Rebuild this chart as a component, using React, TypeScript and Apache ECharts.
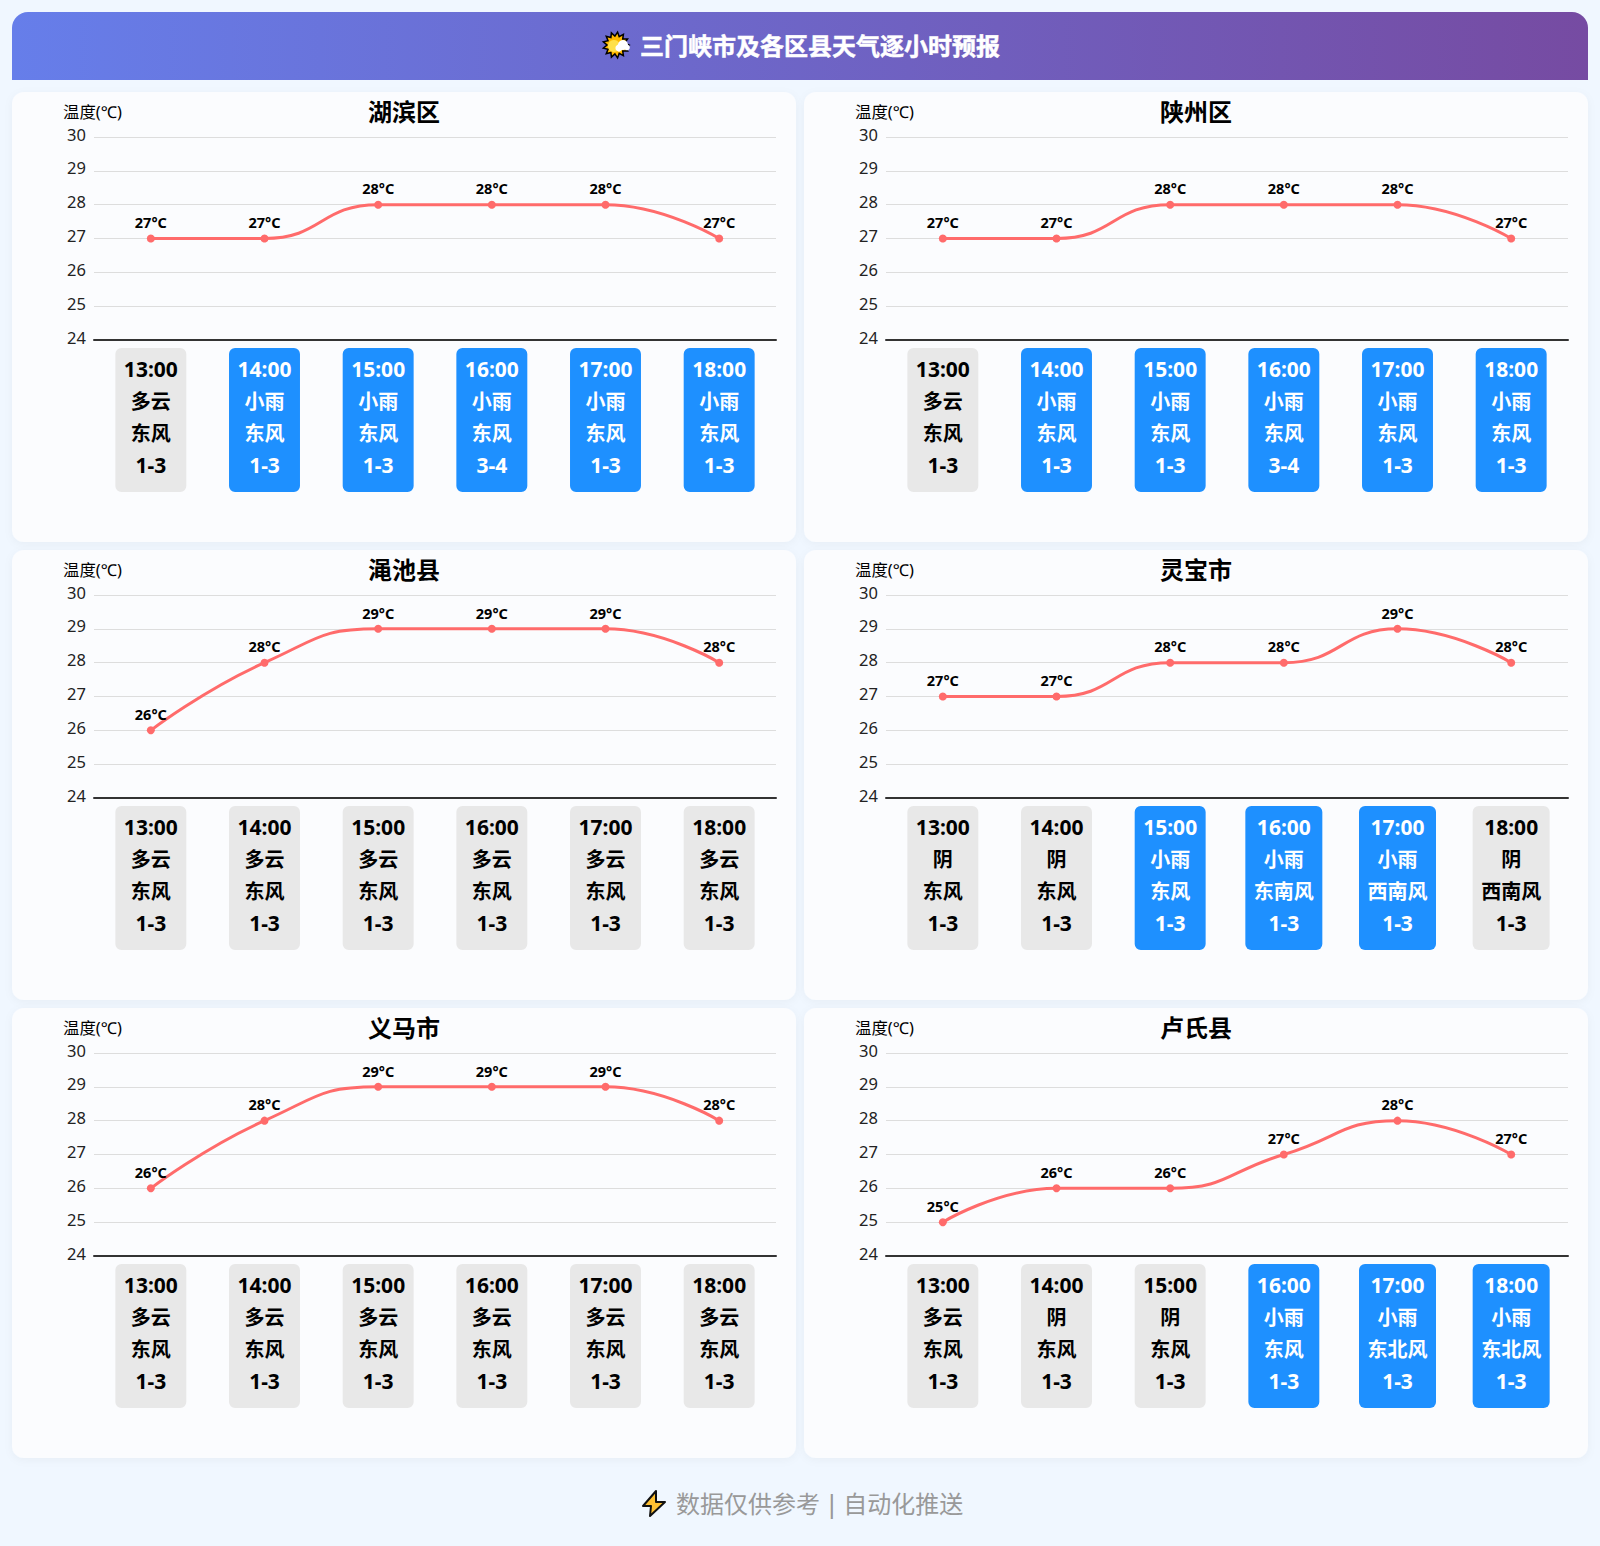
import React, { useEffect, useRef } from "react";
import * as echarts from "echarts";

const hours = ["13:00", "14:00", "15:00", "16:00", "17:00", "18:00"];
const tempTicks = ["24", "25", "26", "27", "28", "29", "30"];

const cityNames = ["湖滨区", "陕州区", "渑池县", "灵宝市", "义马市", "卢氏县"];

const hubinTemps = [27, 27, 28, 28, 28, 27];
const shanzhouTemps = [27, 27, 28, 28, 28, 27];
const mianchiTemps = [26, 28, 29, 29, 29, 28];
const lingbaoTemps = [27, 27, 28, 28, 29, 28];
const yimaTemps = [26, 28, 29, 29, 29, 28];
const lushiTemps = [25, 26, 26, 27, 28, 27];

const hubinWeather = ["多云", "小雨", "小雨", "小雨", "小雨", "小雨"];
const shanzhouWeather = ["多云", "小雨", "小雨", "小雨", "小雨", "小雨"];
const mianchiWeather = ["多云", "多云", "多云", "多云", "多云", "多云"];
const lingbaoWeather = ["阴", "阴", "小雨", "小雨", "小雨", "阴"];
const yimaWeather = ["多云", "多云", "多云", "多云", "多云", "多云"];
const lushiWeather = ["多云", "阴", "阴", "小雨", "小雨", "小雨"];

const hubinWind = ["东风", "东风", "东风", "东风", "东风", "东风"];
const shanzhouWind = ["东风", "东风", "东风", "东风", "东风", "东风"];
const mianchiWind = ["东风", "东风", "东风", "东风", "东风", "东风"];
const lingbaoWind = ["东风", "东风", "东风", "东南风", "西南风", "西南风"];
const yimaWind = ["东风", "东风", "东风", "东风", "东风", "东风"];
const lushiWind = ["东风", "东风", "东风", "东风", "东北风", "东北风"];

const hubinLevel = ["1-3", "1-3", "1-3", "3-4", "1-3", "1-3"];
const shanzhouLevel = ["1-3", "1-3", "1-3", "3-4", "1-3", "1-3"];
const commonLevel = ["1-3", "1-3", "1-3", "1-3", "1-3", "1-3"];

const allTemps = [hubinTemps, shanzhouTemps, mianchiTemps, lingbaoTemps, yimaTemps, lushiTemps];
const allWeather = [hubinWeather, shanzhouWeather, mianchiWeather, lingbaoWeather, yimaWeather, lushiWeather];
const allWind = [hubinWind, shanzhouWind, mianchiWind, lingbaoWind, yimaWind, lushiWind];
const allLevel = [hubinLevel, shanzhouLevel, commonLevel, commonLevel, commonLevel, commonLevel];

const headerText = "三门峡市及各区县天气逐小时预报";
const footerText = "数据仅供参考 | 自动化推送";

const FONT = '"Noto Sans", "Noto Sans CJK SC", sans-serif';
const FOOTER_FONT = '"DejaVu Sans", "Noto Sans CJK SC", sans-serif';

const sunPoints = () => {
  const pts: number[][] = [];
  const cx = 616;
  const cy = 45;
  for (let i = 0; i < 26; i++) {
    const r = i % 2 === 0 ? 13 : 9;
    const a = (i / 26) * Math.PI * 2;
    pts.push([cx + r * Math.cos(a), cy + r * Math.sin(a)]);
  }
  return pts;
};

const richLine = (fontSize: number) => ({
  fontSize,
  fontWeight: "bold",
  fontFamily: FONT,
  lineHeight: 32,
});

function buildOption() {
  const cols = [12, 804];
  const rows = [92, 550, 1008];
  const panels = cityNames.map((_, i) => ({
    x: cols[i % 2],
    y: rows[Math.floor(i / 2)],
  }));

  const graphic: any[] = [
    {
      type: "rect",
      z: -10,
      shape: { x: 12, y: 12, width: 1576, height: 68, r: [16, 16, 0, 0] },
      style: {
        fill: new echarts.graphic.LinearGradient(0, 0, 1, 0, [
          { offset: 0, color: "#667eea" },
          { offset: 1, color: "#764ba2" },
        ]),
      },
    },
    ...panels.map((p) => ({
      type: "rect",
      z: -10,
      shape: { x: p.x, y: p.y, width: 784, height: 450, r: 12 },
      style: {
        fill: "#fbfcfe",
        shadowBlur: 8,
        shadowColor: "rgba(0,0,0,0.04)",
        shadowOffsetY: 2,
      },
    })),
    // sun-behind-cloud icon
    { type: "polygon", z: 5, shape: { points: sunPoints() }, style: { fill: "#ffb900", stroke: "#000", lineWidth: 1.5 } },
    { type: "circle", z: 6, shape: { cx: 614, cy: 46, r: 6 }, style: { fill: "#ffe04a" } },
    { type: "circle", z: 7, shape: { cx: 619, cy: 48, r: 3.6 }, style: { fill: "#fff" } },
    { type: "circle", z: 7, shape: { cx: 623, cy: 45, r: 5 }, style: { fill: "#fff" } },
    { type: "circle", z: 7, shape: { cx: 627, cy: 47.5, r: 2.8 }, style: { fill: "#fff" } },
    // lightning icon
    {
      type: "polygon",
      z: 5,
      shape: {
        points: [
          [656, 1491], [643, 1506], [651, 1506], [650, 1516], [665, 1502], [656, 1502], [656, 1491],
        ],
      },
      style: { fill: "#ffc032", stroke: "#111", lineWidth: 2, lineJoin: "round" },
    },
    {
      type: "text",
      z: 5,
      style: {
        x: 640,
        y: 45,
        text: headerText,
        fill: "#fff",
        stroke: "#fff",
        lineWidth: 0.5,
        font: `bold 24px ${FONT}`,
        textAlign: "left",
        textVerticalAlign: "middle",
      },
    },
    {
      type: "text",
      z: 5,
      style: {
        x: 676,
        y: 1504.5,
        text: footerText,
        fill: "#999",
        font: `24px ${FOOTER_FONT}`,
        textAlign: "left",
        textVerticalAlign: "middle",
      },
    },
  ];

  return {
    animation: false,
    backgroundColor: "#f0f7ff",
    textStyle: { fontFamily: FONT },
    graphic,
    title: panels.map((p, i) => ({
      text: cityNames[i],
      left: p.x + 387,
      top: p.y + 2,
      textAlign: "center",
      textStyle: { color: "#000", fontSize: 24, fontWeight: "bold", fontFamily: FONT },
    })),
    grid: panels.map((p) => ({
      left: p.x + 82,
      top: p.y + 45,
      width: 682,
      height: 203,
      containLabel: false,
    })),
    xAxis: panels.map((_, i) => ({
      type: "category",
      gridIndex: i,
      boundaryGap: true,
      data: hours.map((h, j) => {
        const rainy = allWeather[i][j] === "小雨";
        return {
          value: [h, allWeather[i][j], allWind[i][j], allLevel[i][j]].join("\n"),
          textStyle: rainy
            ? { color: "#fff", backgroundColor: "#1e90ff" }
            : { color: "#000", backgroundColor: "#e8e8e8" },
        };
      }),
      axisLine: { show: true, lineStyle: { color: "#333", width: 2 } },
      axisTick: { show: false },
      axisLabel: {
        interval: 0,
        margin: 8,
        fontSize: 20,
        fontWeight: "bold",
        fontFamily: FONT,
        lineHeight: 32,
        padding: [5, 8.5, 11, 8.5],
        borderRadius: 6,
        hideOverlap: false,
        formatter: (v: string) => {
          const [time, weather, wind, level] = v.split("\n");
          return [`{num|${time}}`, `{cjk|${weather}}`, `{cjk|${wind}}`, `{num|${level}}`].join("\n");
        },
        rich: { num: richLine(21), cjk: richLine(20) },
      },
    })),
    yAxis: panels.map((_, i) => ({
      type: "value",
      gridIndex: i,
      min: Number(tempTicks[0]),
      max: Number(tempTicks[tempTicks.length - 1]),
      interval: 1,
      name: "温度(℃)",
      nameGap: 15,
      nameTextStyle: { color: "#000", fontSize: 16.4, fontFamily: FONT, padding: [0, 3, 2, 0] },
      axisLine: { show: false },
      axisTick: { show: false },
      axisLabel: {
        color: "#222",
        fontSize: 16.5,
        margin: 8,
        fontFamily: FONT,
        verticalAlign: "bottom",
        lineHeight: 6,
      },
      splitLine: { show: true, lineStyle: { color: "#ddd", width: 1 } },
    })),
    series: panels.map((_, i) => ({
      type: "line",
      xAxisIndex: i,
      yAxisIndex: i,
      data: allTemps[i],
      smooth: true,
      symbol: "circle",
      symbolSize: 8,
      lineStyle: { color: "#ff6b6b", width: 3 },
      itemStyle: { color: "#ff6b6b" },
      label: {
        show: true,
        position: "top",
        formatter: "{c}°C",
        color: "#000",
        fontSize: 14.5,
        fontWeight: "bold",
        fontFamily: FONT,
      },
    })),
  };
}

export default function App() {
  const ref = useRef<HTMLDivElement>(null);
  useEffect(() => {
    document.body.style.margin = "0";
    const chart = echarts.init(ref.current!, undefined, { renderer: "svg" });
    chart.setOption(buildOption() as any);
    return () => chart.dispose();
  }, []);
  return <div ref={ref} style={{ width: 1600, height: 1546 }} />;
}
